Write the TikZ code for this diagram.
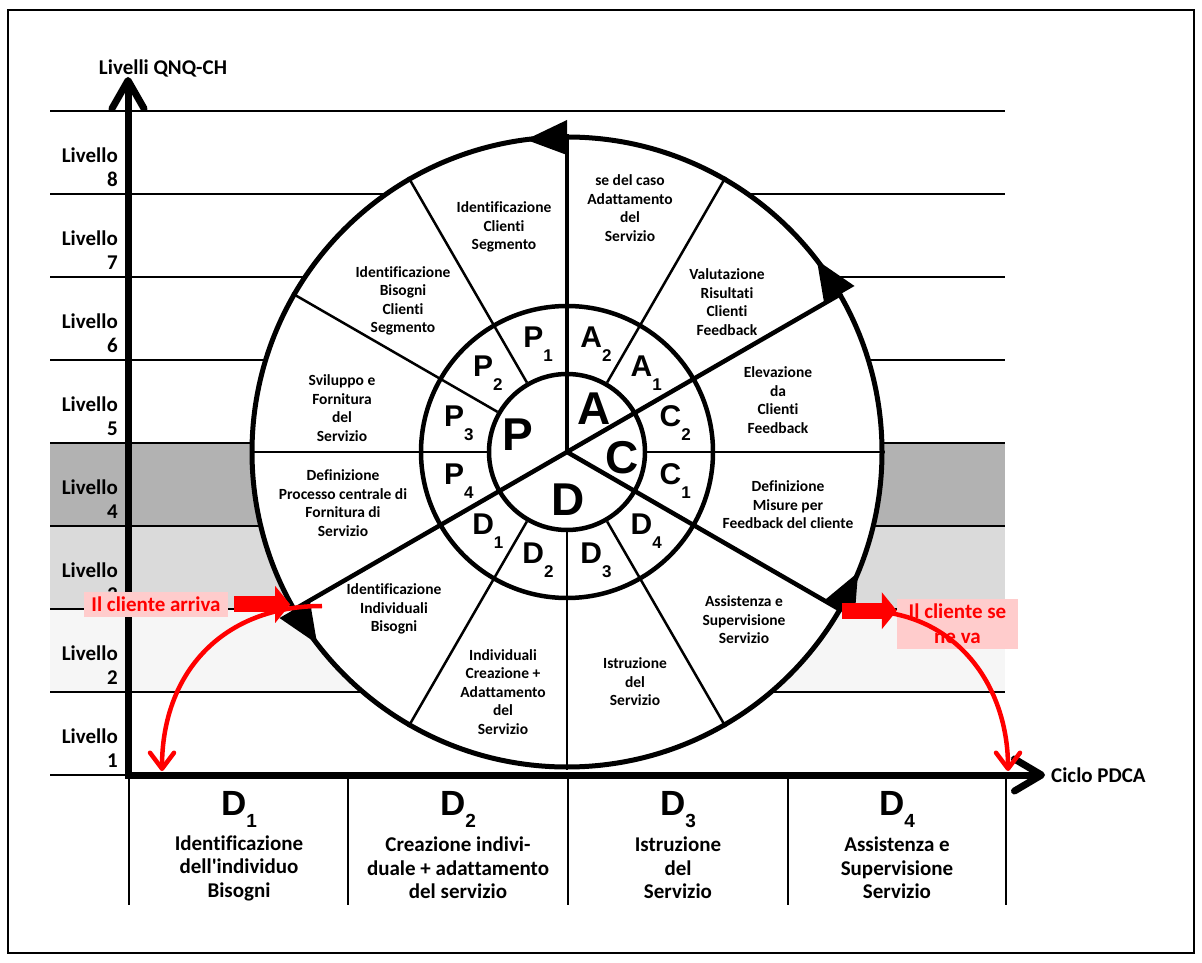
\documentclass[tikz,border=0pt]{standalone}
\usepackage{fontspec}
\setmainfont{Carlito}[Ligatures=NoCommon]
\newfontfamily\arialfont{Liberation Sans}
\usetikzlibrary{arrows.meta}

\definecolor{darkband}{RGB}{178,178,178}
\definecolor{midband}{RGB}{218,218,218}
\definecolor{lightband}{RGB}{246,246,246}
\definecolor{pinkbox}{RGB}{255,204,204}

% letter with a lowered index (wheel and phase table)
\newcommand{\ringlbl}[2]{{\arialfont\bfseries\fontsize{30}{30}\selectfont #1\raisebox{-14pt}{\fontsize{17}{17}\selectfont #2}}}
\newcommand{\phaselbl}[1]{{\arialfont\bfseries\fontsize{35}{35}\selectfont D\raisebox{-12pt}{\fontsize{19}{19}\selectfont #1}}}

\tikzset{
  levelline/.style = {line width=2pt},
  levellabel/.style = {font=\bfseries\fontsize{21}{24}\selectfont, align=right, anchor=east, inner sep=0pt},
  ring/.style = {circle, draw, line width=4.5pt, inner sep=0pt},
  spoke/.style = {line width=4.5pt},
  divider/.style = {line width=2.5pt},
  sector/.style = {font=\bfseries\fontsize{15.5}{18.5}\selectfont, align=center, inner sep=0pt},
  bigletter/.style = {font=\arialfont\bfseries\fontsize{46}{46}\selectfont, inner sep=0pt},
  axis/.style = {line width=7pt, {Straight Barb[length=28pt,width=32pt,round]}-{Straight Barb[length=27pt,width=32pt,round]}},
  axislabel/.style = {font=\bfseries\fontsize{21}{24}\selectfont, inner sep=0pt},
  tableline/.style = {line width=1.5pt},
  phasetext/.style = {font=\bfseries\fontsize{21}{23.5}\selectfont, align=center, inner sep=0pt},
  redbox/.style = {fill=pinkbox, text=red, font=\bfseries\fontsize{21}{25}\selectfont, align=center, inner sep=0pt},
  blockarrow/.style = {red, line width=16pt, -{Triangle[length=15pt,width=37pt,line width=0pt]}},
  redcurve/.style = {red, line width=4.5pt, -{Straight Barb[length=16pt,width=24pt,round]}},
}

\begin{document}
\begin{tikzpicture}[x=1pt, y=1pt]
  \useasboundingbox (0,0) rectangle (1202,962);
  \fill[white] (0,0) rectangle (1202,962);
  \draw[line width=1.5pt] (8,9) rectangle (1194,952);

  % Level bands
  \fill[darkband] (50,436) rectangle (1005,519);
  \fill[midband] (50,353) rectangle (1005,436);
  \fill[lightband] (50,270) rectangle (1005,353);
  \foreach \k in {0,...,8}
    \draw[levelline] (50,{187+83*\k}) -- (1005,{187+83*\k});
  \foreach \k in {1,...,8}
    \node[levellabel] (lvl\k) at (118,{187+83*\k-56}) {Livello\\\k};

  % Wheel
  \node[ring, minimum size=630pt, line width=5pt, fill=white] (wheel) at (567,510) {};
  \node[ring, minimum size=292pt] (mid) at (wheel.center) {};
  \node[ring, minimum size=156pt] (hub) at (wheel.center) {};
  \foreach \a in {90,210,330,30}
    \draw[spoke] (wheel.center) -- (wheel.\a);
  \foreach \a in {0,60,120,150,180,240,270,300}
    \draw[divider] (hub.\a) -- (wheel.\a);

  \begin{scope}[shift={(wheel.center)}]
    \foreach \a in {90,210,330,30}
      \fill (\a:297) -- (\a:332) -- ({\a+7.5}:315) -- cycle;
    \foreach \a/\l/\n in {105/P/1,135/P/2,165/P/3,195/P/4,225/D/1,255/D/2,
                          285/D/3,315/D/4,345/C/1,15/C/2,45/A/1,75/A/2}
      \node[inner sep=0pt] (\l\n) at (\a:112) {\ringlbl{\l}{\n}};
    \node[bigletter] (bigP) at (-49,17) {P};
    \node[bigletter] (bigD) at (1,-48) {D};
    \node[bigletter] (bigC) at (55,-6) {C};
    \node[bigletter] (bigA) at (27,43) {A};
  \end{scope}

  % Sector texts
  \node[sector] (txtP1) at (504,735) {Identificazione\\Clienti\\Segmento};
  \node[sector] (txtP2) at (403,661) {Identificazione\\Bisogni\\Clienti\\Segmento};
  \node[sector] (txtP3) at (342,554) {Sviluppo e\\Fornitura\\del\\Servizio};
  \node[sector] (txtP4) at (343,459) {Definizione\\Processo centrale di\\Fornitura di\\Servizio};
  \node[sector] (txtD1) at (394,353) {Identificazione\\Individuali\\Bisogni};
  \node[sector] (txtD2) at (503,270) {Individuali\\Creazione +\\Adattamento\\del\\Servizio};
  \node[sector] (txtD3) at (635,280) {Istruzione\\del\\Servizio};
  \node[sector] (txtD4) at (744,342) {Assistenza e\\Supervisione\\Servizio};
  \node[sector] (txtC1) at (788,457) {Definizione\\Misure per\\Feedback del cliente};
  \node[sector] (txtC2) at (778,562) {Elevazione\\da\\Clienti\\Feedback};
  \node[sector] (txtA1) at (727,660) {Valutazione\\Risultati\\Clienti\\Feedback};
  \node[sector] (txtA2) at (630,754) {se del caso\\Adattamento\\del\\Servizio};

  % Axes
  \coordinate (origin) at (128,187);
  \coordinate (ytip) at (128,885);
  \coordinate (xtip) at (1045,187);
  \draw[axis] (ytip) -- (origin) -- (xtip);
  \node[axislabel] (ylabel) at (163,894) {Livelli QNQ-CH};
  \node[axislabel, anchor=west] (xlabel) at (1051,187) {Ciclo PDCA};

  % Phase table
  \foreach \x in {129,348,568,788,1006}
    \draw[tableline] (\x,187) -- (\x,57);
  \foreach \x/\n in {239/1,458/2,678/3,897/4}
    \node[anchor=base, inner sep=0pt] (phase\n) at (\x,147) {\phaselbl{\n}};
  \node[phasetext] (task1) at (239,94) {Identificazione\\dell\textquotesingle individuo\\Bisogni};
  \node[phasetext] (task2) at (458,94) {Creazione indivi-\\duale + adattamento\\del servizio};
  \node[phasetext] (task3) at (678,94) {Istruzione\\del\\Servizio};
  \node[phasetext] (task4) at (897,94) {Assistenza e\\Supervisione\\Servizio};

  % Client in and out
  \node[redbox, minimum width=144pt, minimum height=25pt] (arrive) at (156,357.5) {Il cliente arriva};
  \node[redbox, minimum width=121pt, minimum height=50pt] (leave) at (957.5,338) {Il cliente se\\ne va};
  \coordinate (arrivestart) at (322,356);
  \coordinate (arrivedrop) at (162,191);
  \coordinate (leavestart) at (890,349);
  \coordinate (leavedrop) at (1008,191);
  \draw[blockarrow] ([xshift=6pt]arrive.east) -- ++(56,0);
  \draw[blockarrow] (wheel.330) -- (wheel.330 -| leave.west);
  \draw[redcurve] (arrivestart) to[out=180,in=90,looseness=1.1] (arrivedrop);
  \draw[redcurve] (leavestart) to[out=-10,in=90] (leavedrop);
\end{tikzpicture}
\end{document}
